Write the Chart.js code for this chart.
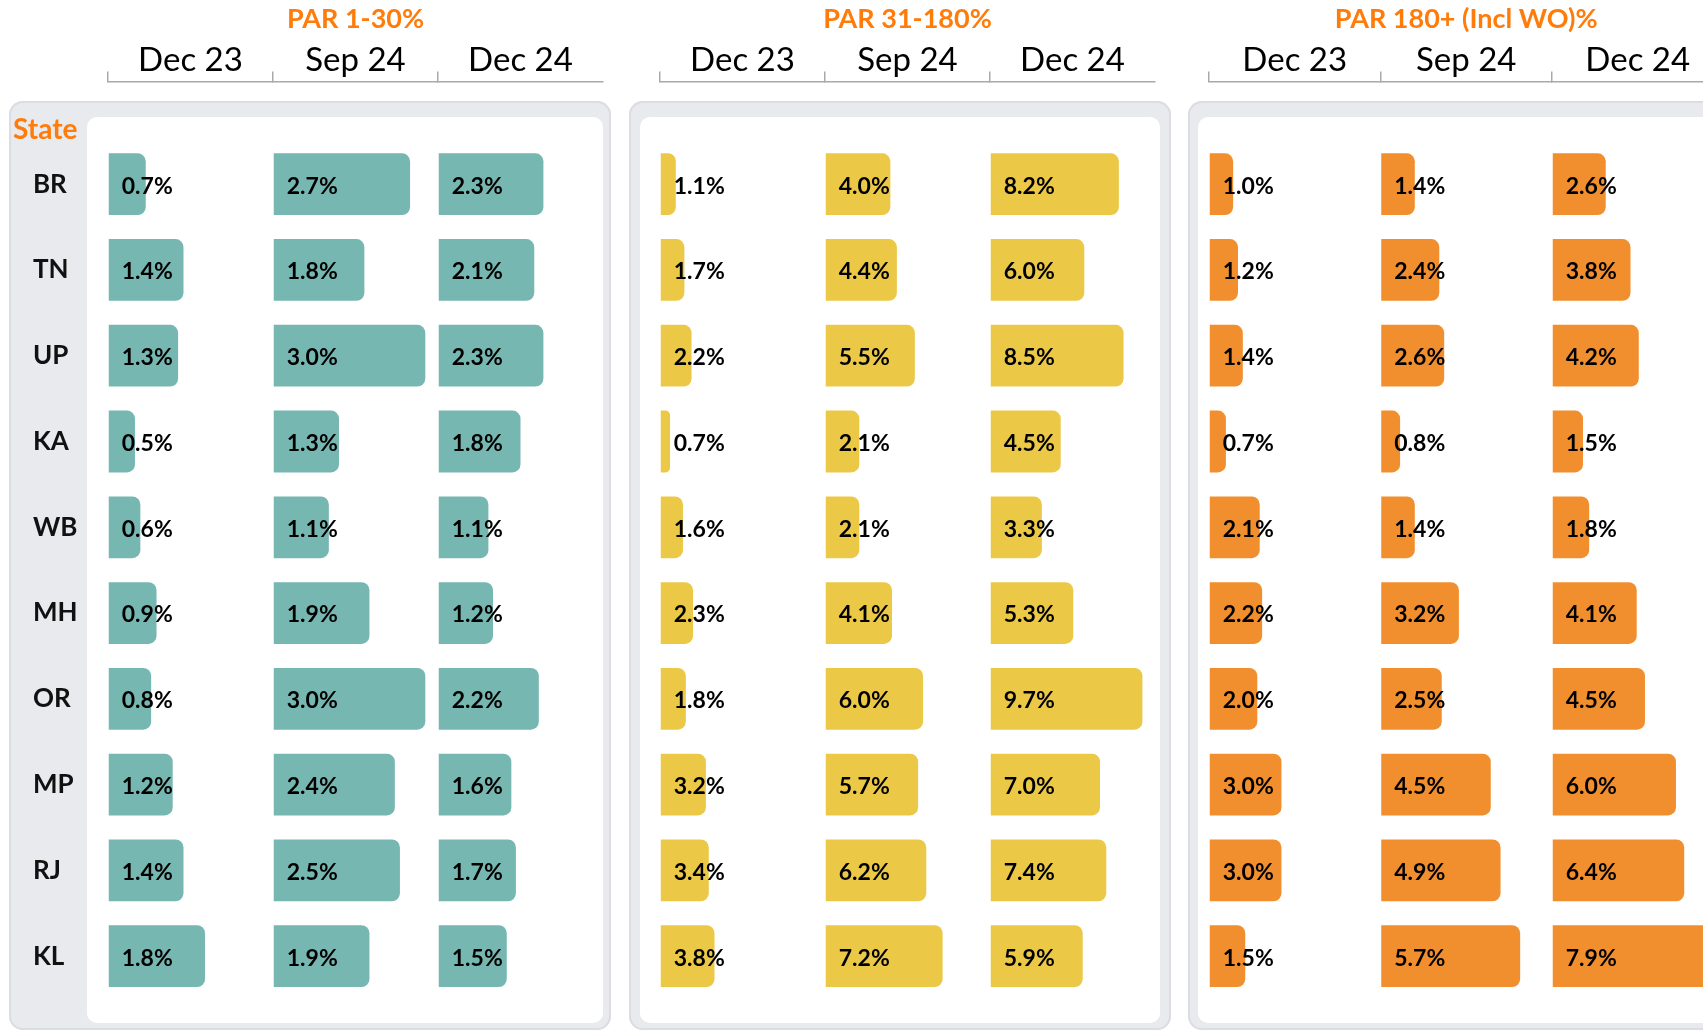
<!DOCTYPE html>
<html>
<head>
<meta charset="utf-8">
<script src="https://cdn.jsdelivr.net/npm/chart.js@4.4.1/dist/chart.umd.min.js"></script>
<style>
  html, body { margin: 0; padding: 0; width: 1703px; height: 1033px; overflow: hidden; background: #fff; }
  .panel { position: absolute; top: 101px; height: 929px; border-radius: 14px; background: #e9eaee; box-shadow: inset 0 0 0 2px #dcdde2; }
  .inner { position: absolute; top: 117px; height: 906px; border-radius: 10px; background: #fff; }
  canvas { position: absolute; top: 0; }
</style>
</head>
<body>
<div class="panel" style="left:9px;width:602px"></div>
<div class="inner" style="left:87px;width:516px"></div>
<div class="panel" style="left:629px;width:542px"></div>
<div class="inner" style="left:640px;width:520px"></div>
<div class="panel" style="left:1188px;width:600px"></div>
<div class="inner" style="left:1198px;width:600px"></div>

<canvas id="c1" width="620" height="1033" style="left:0"></canvas>
<canvas id="c2" width="560" height="1033" style="left:620px"></canvas>
<canvas id="c3" width="560" height="1033" style="left:1180px"></canvas>

<script>
const states = ['BR', 'TN', 'UP', 'KA', 'WB', 'MH', 'OR', 'MP', 'RJ', 'KL'];
const periods = ['Dec 23', 'Sep 24', 'Dec 24'];

// PAR 1-30%
const par1Dec23 = [0.7, 1.4, 1.3, 0.5, 0.6, 0.9, 0.8, 1.2, 1.4, 1.8];
const par1Sep24 = [2.7, 1.8, 3.0, 1.3, 1.1, 1.9, 3.0, 2.4, 2.5, 1.9];
const par1Dec24 = [2.3, 2.1, 2.3, 1.8, 1.1, 1.2, 2.2, 1.6, 1.7, 1.5];

// PAR 31-180%
const par31Dec23 = [1.1, 1.7, 2.2, 0.7, 1.6, 2.3, 1.8, 3.2, 3.4, 3.8];
const par31Sep24 = [4.0, 4.4, 5.5, 2.1, 2.1, 4.1, 6.0, 5.7, 6.2, 7.2];
const par31Dec24 = [8.2, 6.0, 8.5, 4.5, 3.3, 5.3, 9.7, 7.0, 7.4, 5.9];

// PAR 180+ (Incl WO)%
const par180Dec23 = [1.0, 1.2, 1.4, 0.7, 2.1, 2.2, 2.0, 3.0, 3.0, 1.5];
const par180Sep24 = [1.4, 2.4, 2.6, 0.8, 1.4, 3.2, 2.5, 4.5, 4.9, 5.7];
const par180Dec24 = [2.6, 3.8, 4.2, 1.5, 1.8, 4.1, 4.5, 6.0, 6.4, 7.9];

const orangeText = '#ff7c0a';
const axisGrey = '#a9a9a9';

// writes "x.x%" just inside the start of every bar
const valueLabels = {
  id: 'valueLabels',
  afterDatasetsDraw(chart) {
    const ctx = chart.ctx;
    ctx.save();
    ctx.font = 'bold 23px Lato';
    ctx.fillStyle = '#000';
    ctx.textBaseline = 'middle';
    ctx.textAlign = 'left';
    chart.data.datasets.forEach((ds, i) => {
      chart.getDatasetMeta(i).data.forEach((bar, j) => {
        ctx.fillText(ds.data[j].toFixed(1) + '%', bar.base + 13, bar.y + 2);
      });
    });
    ctx.restore();
  }
};

// each period column is its own x axis, laid side by side in one stack
function panelChart(id, title, color, series, colMax, showStates, padLeft, padRight) {
  const scales = {
    y: {
      position: 'left', stack: 'rows', stackWeight: 859, weight: 0,
      grid: { display: false, drawTicks: false },
      border: { display: false },
      ticks: {
        display: showStates, crossAlign: 'far', padding: 0, color: '#111',
        font: { family: 'Lato', weight: 'bold', size: 26 }
      },
      afterFit: s => { s.width = showStates ? 75 : 0; }
    },
    yHead: {
      type: 'category', labels: ['State'], position: 'left', stack: 'rows', stackWeight: 60, weight: 1,
      offset: true,
      grid: { display: false, drawTicks: false },
      border: { display: false },
      ticks: {
        display: showStates, mirror: true, crossAlign: 'near', padding: -95, labelOffset: 19,
        color: orangeText, font: { family: 'Lato', weight: 'bold', size: 28 }
      },
      afterFit: s => { s.width = showStates ? 75 : 0; }
    }
  };
  periods.forEach((p, i) => {
    scales['x' + i] = {
      type: 'linear', position: 'top', stack: 'cols', weight: 10 - i, min: 0, max: colMax[i],
      title: {
        display: true, text: p, color: '#000',
        font: { family: 'Lato', size: 33 }, padding: { top: 5, bottom: 0 }
      },
      ticks: { display: false },
      afterBuildTicks: s => { s.ticks = [{ value: 0 }]; },
      grid: { drawOnChartArea: false, drawTicks: true, tickLength: 10, color: axisGrey, lineWidth: 1.5 },
      border: { display: true, color: axisGrey, width: 1.5 },
      afterFit: s => { s.height = 46; }
    };
  });

  return new Chart(document.getElementById(id), {
    type: 'bar',
    data: {
      labels: states,
      datasets: series.map((data, i) => ({
        label: periods[i],
        data: data,
        xAxisID: 'x' + i,
        yAxisID: 'y',
        grouped: false,
        backgroundColor: color,
        borderRadius: 8,
        categoryPercentage: 0.8,
        barPercentage: 0.9
      }))
    },
    options: {
      indexAxis: 'y',
      responsive: false,
      devicePixelRatio: 1,
      animation: false,
      layout: { padding: { left: padLeft, right: padRight, top: 0, bottom: 34 } },
      scales: scales,
      plugins: {
        legend: { display: false },
        tooltip: { enabled: false },
        title: {
          display: true, text: title, color: orangeText, fullSize: false,
          font: { family: 'Lato', weight: 'bold', size: 27 },
          padding: { top: 3, bottom: 0 }
        }
      }
    },
    plugins: [valueLabels]
  });
}

panelChart('c1', 'PAR 1-30%', '#77b7b1', [par1Dec23, par1Sep24, par1Dec24], [3.06, 3.25, 3.6], true, 33, 17);
panelChart('c2', 'PAR 31-180%', '#ebc947', [par31Dec23, par31Sep24, par31Dec24], [11.5, 10.1, 10.5], false, 40, 25);
panelChart('c3', 'PAR 180+ (Incl WO)%', '#f18f2e', [par180Dec23, par180Sep24, par180Dec24], [7.1, 7.0, 8.3], false, 29, 16.5);
</script>
</body>
</html>
